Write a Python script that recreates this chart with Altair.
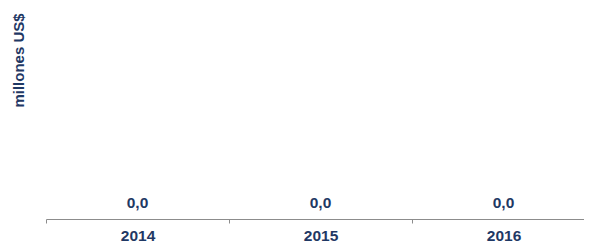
import altair as alt
import pandas as pd

years = ["2014", "2015", "2016"]
values = [0.0, 0.0, 0.0]
labels = ["0,0", "0,0", "0,0"]

df = pd.DataFrame({"year": years, "value": values, "label": labels})

navy = "#1f3864"
font = "Liberation Sans"

base = alt.Chart(df).encode(
    x=alt.X(
        "year:N",
        sort=years,
        scale=alt.Scale(paddingInner=0, paddingOuter=0),
        axis=alt.Axis(
            title=None,
            labelAngle=0,
            labelFont=font,
            labelFontSize=15.5,
            labelFontWeight="bold",
            labelColor=navy,
            labelPadding=5,
            domainColor="#8c8c8c",
            tickColor="#8c8c8c",
            tickSize=4,
            tickBand="extent",
            grid=False,
        ),
    ),
    y=alt.Y(
        "value:Q",
        scale=alt.Scale(domain=[0, 1]),
        axis=alt.Axis(
            title="millones US$",
            titleFont=font,
            titleFontSize=15,
            titleFontWeight="bold",
            titleColor=navy,
            titleAngle=-90,
            titleAlign="center",
            titleBaseline="middle",
            titleX=-28,
            titleY=52,
            labels=False,
            ticks=False,
            domain=False,
            grid=False,
        ),
    ),
)

bars = base.mark_bar(color=navy)

text = base.mark_text(
    font=font, fontSize=15.5, fontWeight="bold", color=navy, baseline="alphabetic", dy=-11
).encode(text="label:N")

chart = (
    (bars + text)
    .properties(
        width=549,
        height=211,
        autosize=alt.AutoSizeParams(type="none"),
        padding={"left": 38, "top": 0, "right": -11, "bottom": 25},
    )
    .configure(background="white")
    .configure_view(stroke=None, strokeWidth=0)
)

chart.save("out.html", embed_options={"renderer": "svg", "actions": False})
